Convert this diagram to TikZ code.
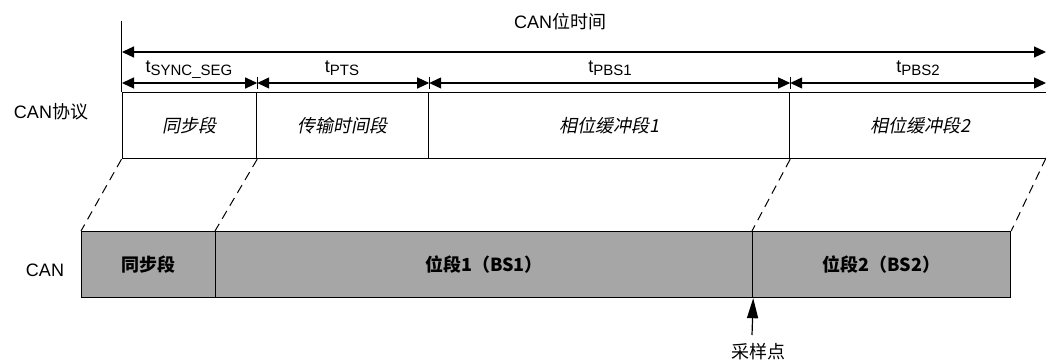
\documentclass[tikz,border=0pt]{standalone}
\usepackage{fontspec}
\setmainfont{Liberation Sans}
\newfontfamily\cjk{Noto Sans CJK SC}
\newfontfamily\cjki{Noto Sans CJK SC}[FakeSlant=0.2]
\usetikzlibrary{arrows.meta}
\definecolor{segfill}{HTML}{A6A6A6}
\newcommand\tsub[1]{t\raisebox{-3pt}{\fontsize{15}{16}\selectfont #1}}
\begin{document}
\begin{tikzpicture}[x=1pt,y=-1pt,line width=1.2pt,
  every node/.style={inner sep=0pt,font=\fontsize{18}{21}\selectfont},
  topbox/.style={draw,minimum height=66pt,anchor=north west,font=\fontsize{18}{21}\selectfont\itshape\cjki},
  botbox/.style={draw,fill=segfill,minimum height=66pt,anchor=north west,font=\fontsize{18}{21}\selectfont\bfseries\cjk},
  dimarrow/.style={{Triangle[length=12pt,width=11pt]}-{Triangle[length=12pt,width=11pt]}},
  bigarrow/.style={{Triangle[length=12pt,width=11pt]}-{Triangle[length=12pt,width=11pt]}},
  proj/.style={dashed,dash pattern=on 9pt off 6pt,line width=1pt},
  lbl/.style={anchor=base}
]
\useasboundingbox (0,0) rectangle (1046,363);

% top (protocol) segments
\node[topbox,minimum width=134.5pt] (s1) at (121.5,92) {同步段};
\node[topbox,minimum width=172pt] (s2) at (256,92) {传输时间段};
\node[topbox,minimum width=361pt] (s3) at (428,92) {相位缓冲段\textit{1}};
\node[topbox,minimum width=262pt] (s4) at (789,92) {相位缓冲段\textit{2}};

% bottom (CAN) segments
\node[botbox,minimum width=134pt] (b1) at (81,231) {同步段};
\node[botbox,minimum width=537pt] (b2) at (215,231) {位段\textbf{1}（\textbf{BS1}）};
\node[botbox,minimum width=258pt] (b3) at (752,231) {位段\textbf{2}（\textbf{BS2}）};

% side labels
\node (lp) at (51,112) {CAN{\cjk 协议}};
\node (lc) at (45,270) {CAN};

% bit time arrow
\coordinate (vt) at (121.5,21);
\draw (vt) -- (s1.north west);
\coordinate (ta) at (122,52);
\coordinate (tb) at (1046,52);
\draw[bigarrow] (ta) -- (tb);
\node (title) at (560,22) {CAN{\cjk 位时间}};

% segment dimension arrows
\path (s1.north west) ++(0.5,-9) coordinate (d0);
\path (s1.north east) ++(0,-9) coordinate (d1);
\path (s2.north east) ++(0,-9) coordinate (d2);
\path (s3.north east) ++(0,-9) coordinate (d3);
\coordinate (d4) at (1046,83);
\draw[dimarrow] (d0) -- (d1);
\draw[dimarrow] (d1) -- (d2);
\draw[dimarrow] (d2) -- (d3);
\draw[dimarrow] (d3) -- (d4);
\foreach \d in {d1,d2,d3} \draw[line width=1pt] (\d) ++(0,-6) -- ++(0,12);

\node[lbl] (t1) at (189,73) {\tsub{SYNC\_SEG}};
\node[lbl] (t2) at (342,73) {\tsub{PTS}};
\node[lbl] (t3) at (610,73) {\tsub{PBS1}};
\node[lbl] (t4) at (918,73) {\tsub{PBS2}};

% projection lines
\coordinate (s4end) at (1046,158);
\draw[proj] (s1.south west) -- (b1.north west);
\draw[proj] (s1.south east) -- (b2.north west);
\draw[proj] (s3.south east) -- (b3.north west);
\draw[proj] (s4end) -- (b3.north east);

% sampling point
\node (samp) at (758,352) {\cjk 采样点};
\coordinate (spb) at (752,335);
\draw[-{Triangle[length=20pt,width=11pt]}] (spb) -- (b2.south east);
\end{tikzpicture}
\end{document}
